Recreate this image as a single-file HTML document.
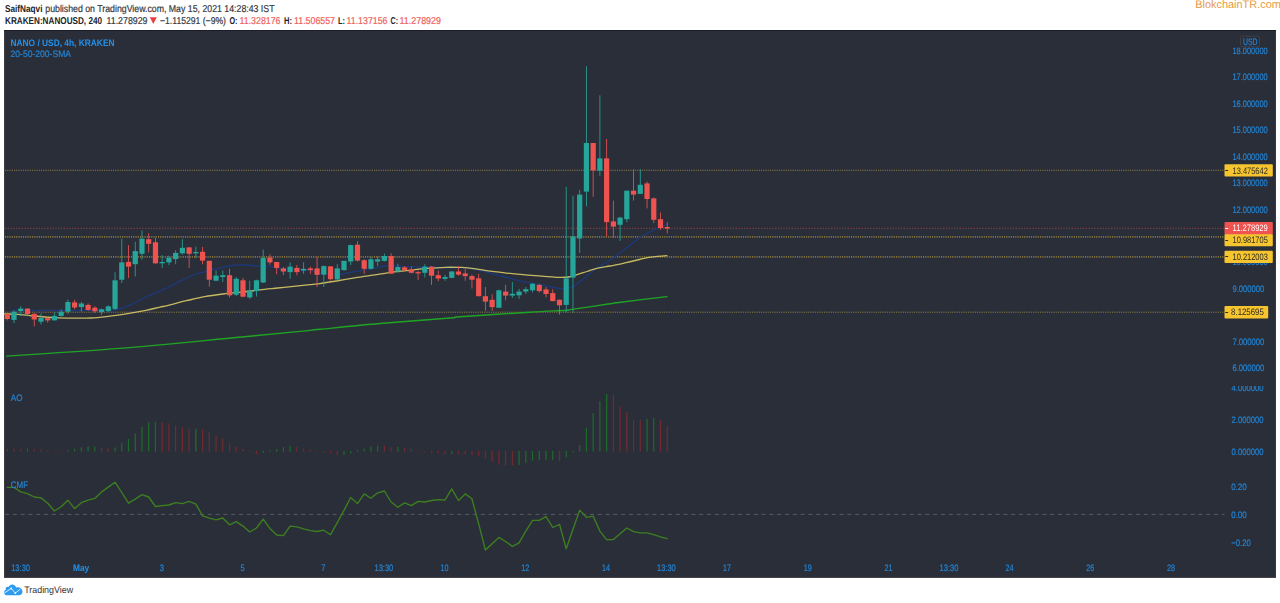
<!DOCTYPE html>
<html><head><meta charset="utf-8"><title>NANO / USD chart</title>
<style>
html,body{margin:0;padding:0;background:#fff;}
body{width:1280px;height:603px;overflow:hidden;position:relative;font-family:"Liberation Sans",sans-serif;}
svg{position:absolute;left:0;top:0;display:block;}
svg text{font-family:"Liberation Sans",sans-serif;text-rendering:geometricPrecision;}
</style></head><body>
<svg width="1280" height="603" viewBox="0 0 1280 603">
<rect x="4" y="30" width="1272" height="548" fill="#2a2e39"/>
<rect x="4" y="30" width="1" height="548" fill="#3d3d40"/>
<rect x="1275" y="30" width="1" height="548" fill="#3a3a3d"/>
<rect x="4" y="577" width="1272" height="1" fill="#454547"/>
<rect x="4" y="30" width="1272" height="1" fill="#1a1c27"/>
<filter id="soft" filterUnits="userSpaceOnUse" x="0" y="0" width="1280" height="603"><feGaussianBlur stdDeviation="0.45"/></filter>
<g filter="url(#soft)">
<line x1="5" y1="228.3" x2="1224.5" y2="228.3" stroke="#ef5350" stroke-opacity="0.55" stroke-width="1.0" stroke-dasharray="1.2 1.6"/>
<line x1="5" y1="170.3" x2="1224.5" y2="170.3" stroke="#e2c04c" stroke-opacity="0.55" stroke-width="1.0" stroke-dasharray="1.1 1.15"/>
<line x1="5" y1="312.2" x2="1224.5" y2="312.2" stroke="#e2c04c" stroke-opacity="0.55" stroke-width="1.0" stroke-dasharray="1.1 1.15"/>
<line x1="5" y1="236.9" x2="1224.5" y2="236.9" stroke="#e2c04c" stroke-opacity="0.5" stroke-width="1.8" stroke-dasharray="1.1 1.15"/>
<line x1="5" y1="256.9" x2="1224.5" y2="256.9" stroke="#e2c04c" stroke-opacity="0.5" stroke-width="1.8" stroke-dasharray="1.1 1.15"/>
<path d="M11.0 310.4 C15.8 310.4 28.5 310.4 40.0 310.4 C51.5 310.4 68.7 310.3 80.0 310.3 C91.3 310.3 102.6 310.5 108.0 310.5 C113.4 310.5 111.1 310.4 112.6 310.3 C114.1 310.2 115.2 310.0 117.0 309.6 C118.8 309.2 121.4 308.4 123.2 307.8 C125.0 307.2 126.2 306.6 128.0 305.8 C129.8 305.0 131.6 304.2 133.8 303.1 C136.0 302.1 138.6 300.7 141.0 299.5 C143.4 298.3 145.9 296.9 148.4 295.8 C150.9 294.7 153.3 293.7 156.0 292.6 C158.7 291.5 161.7 290.4 164.4 289.2 C167.1 288.0 169.3 286.7 172.0 285.4 C174.7 284.1 177.6 282.5 180.3 281.2 C183.0 279.9 185.3 278.7 188.0 277.5 C190.7 276.3 193.4 275.1 196.2 274.2 C199.0 273.2 201.8 272.6 204.7 271.8 C207.6 271.0 210.8 270.1 213.9 269.3 C217.0 268.6 220.0 267.9 223.0 267.3 C226.0 266.7 229.1 265.9 232.1 265.5 C235.1 265.1 237.8 264.8 241.2 264.8 C244.5 264.8 249.1 265.3 252.2 265.5 C255.2 265.7 256.8 266.0 259.5 266.1 C262.2 266.2 265.6 265.7 268.6 266.1 C271.6 266.5 274.6 267.9 277.7 268.4 C280.8 268.9 283.8 269.1 286.9 269.3 C289.9 269.5 292.1 269.5 296.0 269.7 C299.9 269.9 306.3 269.8 310.0 270.3 C313.7 270.8 313.8 272.1 318.2 272.8 C322.6 273.5 331.9 274.5 336.5 274.6 C341.1 274.7 342.6 273.9 345.6 273.4 C348.6 272.9 350.1 272.3 354.7 271.5 C359.3 270.7 367.5 269.4 373.0 268.4 C378.5 267.4 383.4 265.9 387.6 265.5 C391.9 265.1 394.9 265.9 398.5 266.1 C402.1 266.3 404.6 266.4 409.5 266.6 C414.4 266.8 421.6 267.2 427.7 267.3 C433.8 267.4 440.6 267.4 446.0 267.5 C451.4 267.6 456.3 267.8 460.0 267.9 C463.7 268.0 463.8 267.2 468.2 267.9 C472.6 268.6 480.4 270.6 486.5 272.1 C492.6 273.6 498.6 275.4 504.7 277.0 C510.8 278.6 516.9 280.3 523.0 281.6 C529.1 282.9 535.1 283.8 541.2 284.9 C547.3 286.0 555.2 287.9 559.5 288.5 C563.8 289.1 564.7 288.5 566.8 288.2 C568.9 287.9 570.2 287.6 572.0 286.8 C573.8 286.0 575.8 284.8 577.7 283.5 C579.6 282.2 581.6 280.5 583.6 278.8 C585.6 277.1 587.9 275.2 590.0 273.5 C592.1 271.8 592.7 271.0 596.0 268.8 C599.3 266.6 606.5 262.5 610.0 260.2 C613.5 257.9 612.3 258.7 617.2 255.0 C622.1 251.3 633.9 241.7 639.5 237.8 C645.1 233.9 646.1 233.8 650.7 231.5 C655.3 229.2 664.2 225.5 666.9 224.3" fill="none" stroke="#1a3a7e" stroke-width="1.3" stroke-opacity="0.95" stroke-linejoin="round" stroke-linecap="round"/>
<path d="M4.6 313.9 C6.9 314.0 12.9 314.0 18.2 314.4 C23.5 314.8 30.4 315.6 36.5 316.2 C42.6 316.8 48.6 317.4 54.7 317.7 C60.8 318.0 66.9 318.1 73.0 318.2 C79.1 318.2 85.1 318.3 91.2 318.0 C97.3 317.7 103.4 316.9 109.5 316.2 C115.6 315.5 121.6 314.6 127.7 313.6 C133.8 312.6 140.6 311.4 146.0 310.3 C151.4 309.2 156.3 307.9 160.0 307.1 C163.7 306.3 163.8 306.4 168.2 305.3 C172.6 304.2 180.4 302.1 186.5 300.7 C192.6 299.3 198.6 297.8 204.7 296.7 C210.8 295.6 216.9 294.8 223.0 294.0 C229.1 293.2 235.1 292.9 241.2 292.2 C247.3 291.5 253.4 290.5 259.5 289.8 C265.6 289.1 271.6 288.6 277.7 288.0 C283.8 287.4 290.6 286.7 296.0 286.1 C301.4 285.6 306.3 285.1 310.0 284.7 C313.7 284.3 313.8 284.4 318.2 283.8 C322.6 283.2 330.4 282.0 336.5 281.0 C342.6 280.0 348.6 278.9 354.7 277.9 C360.8 276.9 367.5 276.0 373.0 275.2 C378.5 274.4 383.4 273.4 387.6 272.8 C391.9 272.2 394.9 271.9 398.5 271.5 C402.1 271.1 404.6 270.8 409.5 270.3 C414.4 269.8 421.6 268.9 427.7 268.4 C433.8 267.9 440.6 267.5 446.0 267.3 C451.4 267.1 456.3 267.3 460.0 267.4 C463.7 267.5 463.8 267.4 468.2 267.9 C472.6 268.4 480.4 269.8 486.5 270.6 C492.6 271.4 498.6 272.1 504.7 272.8 C510.8 273.5 516.9 274.1 523.0 274.6 C529.1 275.2 535.1 275.6 541.2 276.1 C547.3 276.6 554.9 277.2 559.5 277.4 C564.1 277.5 565.6 277.5 568.6 277.0 C571.6 276.5 574.7 275.2 577.7 274.3 C580.8 273.4 583.9 272.4 586.9 271.5 C589.9 270.6 592.1 269.5 596.0 268.6 C599.9 267.7 606.5 266.7 610.0 266.0 C613.5 265.3 612.3 265.7 617.2 264.6 C622.1 263.5 633.9 260.7 639.5 259.5 C645.1 258.3 646.1 257.8 650.7 257.2 C655.3 256.6 664.2 255.9 666.9 255.7" fill="none" stroke="#d4c564" stroke-width="1.3" stroke-opacity="0.92" stroke-linejoin="round" stroke-linecap="round"/>
<path d="M6.6 356.1 C25.4 354.8 80.7 351.5 119.4 348.4 C158.1 345.3 208.7 340.1 238.8 337.3 C268.9 334.5 286.5 332.7 300.0 331.4 C313.5 330.1 306.7 330.6 320.0 329.3 C333.3 328.0 358.3 325.4 380.0 323.5 C401.7 321.6 436.7 319.1 450.0 318.0 C463.3 316.9 446.7 317.8 460.0 316.8 C473.3 315.8 512.2 313.3 530.0 312.2 C547.8 311.1 559.8 310.7 566.8 310.2 C573.8 309.7 564.8 310.5 572.0 309.4 C579.2 308.3 602.5 304.9 610.0 303.8 C617.5 302.7 607.5 303.9 617.0 302.7 C626.5 301.5 658.7 297.6 667.0 296.6" fill="none" stroke="#1fa524" stroke-width="1.4" stroke-opacity="1" stroke-linejoin="round" stroke-linecap="round"/>
<rect x="6.85" y="312.6" width="0.9" height="7.7" fill="#ef5350" fill-opacity="0.9"/>
<rect x="4.70" y="314.0" width="5.2" height="5.0" fill="#ef5350"/>
<rect x="13.58" y="310.4" width="0.9" height="12.8" fill="#26a69a" fill-opacity="0.9"/>
<rect x="11.43" y="311.7" width="5.2" height="8.2" fill="#26a69a"/>
<rect x="20.32" y="306.2" width="0.9" height="10.0" fill="#26a69a" fill-opacity="0.9"/>
<rect x="18.17" y="308.6" width="5.2" height="2.5" fill="#26a69a"/>
<rect x="27.05" y="308.0" width="0.9" height="8.2" fill="#ef5350" fill-opacity="0.9"/>
<rect x="24.90" y="308.6" width="5.2" height="5.4" fill="#ef5350"/>
<rect x="33.79" y="313.0" width="0.9" height="13.3" fill="#ef5350" fill-opacity="0.9"/>
<rect x="31.64" y="313.9" width="5.2" height="5.6" fill="#ef5350"/>
<rect x="40.52" y="313.5" width="0.9" height="11.0" fill="#26a69a" fill-opacity="0.9"/>
<rect x="38.37" y="318.0" width="5.2" height="3.7" fill="#26a69a"/>
<rect x="47.25" y="317.2" width="0.9" height="5.4" fill="#ef5350" fill-opacity="0.9"/>
<rect x="45.10" y="318.2" width="5.2" height="2.2" fill="#ef5350"/>
<rect x="53.99" y="312.6" width="0.9" height="8.2" fill="#26a69a" fill-opacity="0.9"/>
<rect x="51.84" y="315.9" width="5.2" height="4.4" fill="#26a69a"/>
<rect x="60.72" y="309.3" width="0.9" height="7.3" fill="#26a69a" fill-opacity="0.9"/>
<rect x="58.57" y="311.7" width="5.2" height="4.2" fill="#26a69a"/>
<rect x="67.46" y="299.5" width="0.9" height="14.5" fill="#26a69a" fill-opacity="0.9"/>
<rect x="65.31" y="302.0" width="5.2" height="9.7" fill="#26a69a"/>
<rect x="74.19" y="299.8" width="0.9" height="9.5" fill="#ef5350" fill-opacity="0.9"/>
<rect x="72.04" y="302.4" width="5.2" height="5.1" fill="#ef5350"/>
<rect x="80.92" y="302.0" width="0.9" height="9.7" fill="#26a69a" fill-opacity="0.9"/>
<rect x="78.77" y="303.5" width="5.2" height="3.6" fill="#26a69a"/>
<rect x="87.66" y="303.5" width="0.9" height="7.3" fill="#ef5350" fill-opacity="0.9"/>
<rect x="85.51" y="304.9" width="5.2" height="5.0" fill="#ef5350"/>
<rect x="94.39" y="306.2" width="0.9" height="6.4" fill="#ef5350" fill-opacity="0.9"/>
<rect x="92.24" y="307.7" width="5.2" height="3.6" fill="#ef5350"/>
<rect x="101.13" y="308.6" width="0.9" height="6.2" fill="#26a69a" fill-opacity="0.9"/>
<rect x="98.98" y="309.3" width="5.2" height="2.9" fill="#26a69a"/>
<rect x="107.86" y="305.3" width="0.9" height="6.9" fill="#26a69a" fill-opacity="0.9"/>
<rect x="105.71" y="306.4" width="5.2" height="4.7" fill="#26a69a"/>
<rect x="114.59" y="272.1" width="0.9" height="37.8" fill="#26a69a" fill-opacity="0.9"/>
<rect x="112.44" y="280.3" width="5.2" height="28.6" fill="#26a69a"/>
<rect x="121.33" y="238.7" width="0.9" height="44.3" fill="#26a69a" fill-opacity="0.9"/>
<rect x="119.18" y="262.4" width="5.2" height="17.3" fill="#26a69a"/>
<rect x="128.06" y="245.1" width="0.9" height="32.8" fill="#ef5350" fill-opacity="0.9"/>
<rect x="125.91" y="261.9" width="5.2" height="4.7" fill="#ef5350"/>
<rect x="134.80" y="241.8" width="0.9" height="34.7" fill="#26a69a" fill-opacity="0.9"/>
<rect x="132.65" y="251.1" width="5.2" height="13.1" fill="#26a69a"/>
<rect x="141.53" y="230.5" width="0.9" height="29.2" fill="#26a69a" fill-opacity="0.9"/>
<rect x="139.38" y="238.7" width="5.2" height="15.1" fill="#26a69a"/>
<rect x="148.26" y="233.2" width="0.9" height="19.2" fill="#ef5350" fill-opacity="0.9"/>
<rect x="146.11" y="239.2" width="5.2" height="4.6" fill="#ef5350"/>
<rect x="155.00" y="237.8" width="0.9" height="25.9" fill="#ef5350" fill-opacity="0.9"/>
<rect x="152.85" y="242.3" width="5.2" height="21.0" fill="#ef5350"/>
<rect x="161.73" y="255.1" width="0.9" height="12.8" fill="#26a69a" fill-opacity="0.9"/>
<rect x="159.58" y="262.0" width="5.2" height="1.3" fill="#26a69a"/>
<rect x="168.47" y="255.7" width="0.9" height="9.4" fill="#26a69a" fill-opacity="0.9"/>
<rect x="166.32" y="257.8" width="5.2" height="4.6" fill="#26a69a"/>
<rect x="175.20" y="250.2" width="0.9" height="14.0" fill="#26a69a" fill-opacity="0.9"/>
<rect x="173.05" y="252.9" width="5.2" height="6.2" fill="#26a69a"/>
<rect x="181.93" y="239.2" width="0.9" height="15.4" fill="#26a69a" fill-opacity="0.9"/>
<rect x="179.78" y="247.8" width="5.2" height="5.5" fill="#26a69a"/>
<rect x="188.67" y="246.9" width="0.9" height="21.0" fill="#ef5350" fill-opacity="0.9"/>
<rect x="186.52" y="247.4" width="5.2" height="6.4" fill="#ef5350"/>
<rect x="195.40" y="246.5" width="0.9" height="11.3" fill="#26a69a" fill-opacity="0.9"/>
<rect x="193.25" y="252.0" width="5.2" height="1.3" fill="#26a69a"/>
<rect x="202.14" y="246.9" width="0.9" height="17.3" fill="#ef5350" fill-opacity="0.9"/>
<rect x="199.99" y="251.8" width="5.2" height="8.8" fill="#ef5350"/>
<rect x="208.87" y="260.8" width="0.9" height="25.9" fill="#ef5350" fill-opacity="0.9"/>
<rect x="206.72" y="260.8" width="5.2" height="18.9" fill="#ef5350"/>
<rect x="215.60" y="270.6" width="0.9" height="10.6" fill="#26a69a" fill-opacity="0.9"/>
<rect x="213.45" y="275.7" width="5.2" height="5.0" fill="#26a69a"/>
<rect x="222.34" y="270.6" width="0.9" height="11.3" fill="#26a69a" fill-opacity="0.9"/>
<rect x="220.19" y="275.2" width="5.2" height="1.8" fill="#26a69a"/>
<rect x="229.07" y="268.8" width="0.9" height="28.6" fill="#ef5350" fill-opacity="0.9"/>
<rect x="226.92" y="275.2" width="5.2" height="20.1" fill="#ef5350"/>
<rect x="235.81" y="277.0" width="0.9" height="19.2" fill="#26a69a" fill-opacity="0.9"/>
<rect x="233.66" y="278.8" width="5.2" height="15.9" fill="#26a69a"/>
<rect x="242.54" y="277.9" width="0.9" height="19.5" fill="#ef5350" fill-opacity="0.9"/>
<rect x="240.39" y="280.3" width="5.2" height="16.4" fill="#ef5350"/>
<rect x="249.27" y="280.7" width="0.9" height="18.2" fill="#26a69a" fill-opacity="0.9"/>
<rect x="247.12" y="290.3" width="5.2" height="7.1" fill="#26a69a"/>
<rect x="256.01" y="279.7" width="0.9" height="16.8" fill="#26a69a" fill-opacity="0.9"/>
<rect x="253.86" y="280.3" width="5.2" height="10.8" fill="#26a69a"/>
<rect x="262.74" y="249.6" width="0.9" height="33.4" fill="#26a69a" fill-opacity="0.9"/>
<rect x="260.59" y="257.8" width="5.2" height="24.7" fill="#26a69a"/>
<rect x="269.48" y="254.2" width="0.9" height="10.6" fill="#ef5350" fill-opacity="0.9"/>
<rect x="267.33" y="257.5" width="5.2" height="4.9" fill="#ef5350"/>
<rect x="276.21" y="262.0" width="0.9" height="12.3" fill="#ef5350" fill-opacity="0.9"/>
<rect x="274.06" y="262.0" width="5.2" height="5.9" fill="#ef5350"/>
<rect x="282.94" y="267.0" width="0.9" height="8.2" fill="#ef5350" fill-opacity="0.9"/>
<rect x="280.79" y="268.4" width="5.2" height="3.1" fill="#ef5350"/>
<rect x="289.68" y="262.4" width="0.9" height="16.4" fill="#26a69a" fill-opacity="0.9"/>
<rect x="287.53" y="266.6" width="5.2" height="5.5" fill="#26a69a"/>
<rect x="296.41" y="265.1" width="0.9" height="10.1" fill="#ef5350" fill-opacity="0.9"/>
<rect x="294.26" y="267.9" width="5.2" height="4.2" fill="#ef5350"/>
<rect x="303.15" y="262.4" width="0.9" height="11.5" fill="#26a69a" fill-opacity="0.9"/>
<rect x="301.00" y="268.8" width="5.2" height="1.8" fill="#26a69a"/>
<rect x="309.88" y="266.6" width="0.9" height="7.3" fill="#ef5350" fill-opacity="0.9"/>
<rect x="307.73" y="268.4" width="5.2" height="1.7" fill="#ef5350"/>
<rect x="316.61" y="256.9" width="0.9" height="30.1" fill="#ef5350" fill-opacity="0.9"/>
<rect x="314.46" y="268.4" width="5.2" height="6.4" fill="#ef5350"/>
<rect x="323.35" y="265.5" width="0.9" height="21.5" fill="#26a69a" fill-opacity="0.9"/>
<rect x="321.20" y="266.1" width="5.2" height="8.5" fill="#26a69a"/>
<rect x="330.08" y="266.1" width="0.9" height="14.6" fill="#ef5350" fill-opacity="0.9"/>
<rect x="327.93" y="266.4" width="5.2" height="12.8" fill="#ef5350"/>
<rect x="336.82" y="264.2" width="0.9" height="16.5" fill="#26a69a" fill-opacity="0.9"/>
<rect x="334.67" y="268.4" width="5.2" height="11.0" fill="#26a69a"/>
<rect x="343.55" y="260.6" width="0.9" height="10.0" fill="#26a69a" fill-opacity="0.9"/>
<rect x="341.40" y="260.9" width="5.2" height="9.2" fill="#26a69a"/>
<rect x="350.28" y="244.7" width="0.9" height="20.4" fill="#26a69a" fill-opacity="0.9"/>
<rect x="348.13" y="245.1" width="5.2" height="16.4" fill="#26a69a"/>
<rect x="357.02" y="241.1" width="0.9" height="20.4" fill="#ef5350" fill-opacity="0.9"/>
<rect x="354.87" y="244.7" width="5.2" height="15.9" fill="#ef5350"/>
<rect x="363.75" y="259.3" width="0.9" height="14.6" fill="#ef5350" fill-opacity="0.9"/>
<rect x="361.60" y="260.2" width="5.2" height="8.6" fill="#ef5350"/>
<rect x="370.49" y="256.9" width="0.9" height="12.8" fill="#26a69a" fill-opacity="0.9"/>
<rect x="368.34" y="259.3" width="5.2" height="9.5" fill="#26a69a"/>
<rect x="377.22" y="256.4" width="0.9" height="9.7" fill="#26a69a" fill-opacity="0.9"/>
<rect x="375.07" y="259.3" width="5.2" height="2.2" fill="#26a69a"/>
<rect x="383.95" y="253.6" width="0.9" height="7.9" fill="#26a69a" fill-opacity="0.9"/>
<rect x="381.80" y="256.0" width="5.2" height="4.9" fill="#26a69a"/>
<rect x="390.69" y="253.3" width="0.9" height="20.6" fill="#ef5350" fill-opacity="0.9"/>
<rect x="388.54" y="256.0" width="5.2" height="17.7" fill="#ef5350"/>
<rect x="397.42" y="263.7" width="0.9" height="8.4" fill="#26a69a" fill-opacity="0.9"/>
<rect x="395.27" y="267.0" width="5.2" height="4.5" fill="#26a69a"/>
<rect x="404.16" y="266.1" width="0.9" height="4.9" fill="#ef5350" fill-opacity="0.9"/>
<rect x="402.01" y="267.3" width="5.2" height="3.0" fill="#ef5350"/>
<rect x="410.89" y="266.6" width="0.9" height="6.8" fill="#ef5350" fill-opacity="0.9"/>
<rect x="408.74" y="269.3" width="5.2" height="3.5" fill="#ef5350"/>
<rect x="417.62" y="270.6" width="0.9" height="9.5" fill="#ef5350" fill-opacity="0.9"/>
<rect x="415.47" y="272.1" width="5.2" height="1.3" fill="#ef5350"/>
<rect x="424.36" y="264.2" width="0.9" height="13.2" fill="#26a69a" fill-opacity="0.9"/>
<rect x="422.21" y="266.6" width="5.2" height="6.2" fill="#26a69a"/>
<rect x="431.09" y="266.1" width="0.9" height="18.8" fill="#ef5350" fill-opacity="0.9"/>
<rect x="428.94" y="266.6" width="5.2" height="9.1" fill="#ef5350"/>
<rect x="437.83" y="270.6" width="0.9" height="10.6" fill="#ef5350" fill-opacity="0.9"/>
<rect x="435.68" y="275.2" width="5.2" height="3.3" fill="#ef5350"/>
<rect x="444.56" y="274.8" width="0.9" height="5.9" fill="#26a69a" fill-opacity="0.9"/>
<rect x="442.41" y="277.0" width="5.2" height="1.8" fill="#26a69a"/>
<rect x="451.29" y="271.2" width="0.9" height="7.1" fill="#26a69a" fill-opacity="0.9"/>
<rect x="449.14" y="271.5" width="5.2" height="6.4" fill="#26a69a"/>
<rect x="458.03" y="266.1" width="0.9" height="9.6" fill="#ef5350" fill-opacity="0.9"/>
<rect x="455.88" y="271.5" width="5.2" height="3.1" fill="#ef5350"/>
<rect x="464.76" y="268.8" width="0.9" height="11.9" fill="#ef5350" fill-opacity="0.9"/>
<rect x="462.61" y="273.4" width="5.2" height="2.7" fill="#ef5350"/>
<rect x="471.50" y="274.6" width="0.9" height="13.9" fill="#ef5350" fill-opacity="0.9"/>
<rect x="469.35" y="276.1" width="5.2" height="3.6" fill="#ef5350"/>
<rect x="478.23" y="273.9" width="0.9" height="22.6" fill="#ef5350" fill-opacity="0.9"/>
<rect x="476.08" y="278.3" width="5.2" height="17.9" fill="#ef5350"/>
<rect x="484.96" y="287.0" width="0.9" height="23.8" fill="#ef5350" fill-opacity="0.9"/>
<rect x="482.81" y="296.2" width="5.2" height="5.4" fill="#ef5350"/>
<rect x="491.70" y="294.3" width="0.9" height="16.5" fill="#ef5350" fill-opacity="0.9"/>
<rect x="489.55" y="299.8" width="5.2" height="7.3" fill="#ef5350"/>
<rect x="498.43" y="289.8" width="0.9" height="18.2" fill="#26a69a" fill-opacity="0.9"/>
<rect x="496.28" y="290.3" width="5.2" height="17.4" fill="#26a69a"/>
<rect x="505.17" y="284.9" width="0.9" height="15.3" fill="#ef5350" fill-opacity="0.9"/>
<rect x="503.02" y="291.6" width="5.2" height="4.0" fill="#ef5350"/>
<rect x="511.90" y="281.9" width="0.9" height="16.1" fill="#26a69a" fill-opacity="0.9"/>
<rect x="509.75" y="293.8" width="5.2" height="1.8" fill="#26a69a"/>
<rect x="518.63" y="288.9" width="0.9" height="10.0" fill="#26a69a" fill-opacity="0.9"/>
<rect x="516.48" y="291.6" width="5.2" height="3.7" fill="#26a69a"/>
<rect x="525.37" y="287.0" width="0.9" height="7.0" fill="#26a69a" fill-opacity="0.9"/>
<rect x="523.22" y="289.2" width="5.2" height="2.4" fill="#26a69a"/>
<rect x="532.10" y="283.0" width="0.9" height="9.5" fill="#26a69a" fill-opacity="0.9"/>
<rect x="529.95" y="283.8" width="5.2" height="6.5" fill="#26a69a"/>
<rect x="538.84" y="283.8" width="0.9" height="8.7" fill="#ef5350" fill-opacity="0.9"/>
<rect x="536.69" y="284.9" width="5.2" height="6.2" fill="#ef5350"/>
<rect x="545.57" y="287.0" width="0.9" height="10.4" fill="#ef5350" fill-opacity="0.9"/>
<rect x="543.42" y="289.4" width="5.2" height="4.6" fill="#ef5350"/>
<rect x="552.30" y="289.2" width="0.9" height="12.1" fill="#ef5350" fill-opacity="0.9"/>
<rect x="550.15" y="293.1" width="5.2" height="8.0" fill="#ef5350"/>
<rect x="559.04" y="299.5" width="0.9" height="15.1" fill="#ef5350" fill-opacity="0.9"/>
<rect x="556.89" y="299.8" width="5.2" height="5.5" fill="#ef5350"/>
<rect x="565.77" y="186.8" width="0.9" height="125.8" fill="#26a69a" fill-opacity="0.9"/>
<rect x="563.62" y="278.4" width="5.2" height="26.5" fill="#26a69a"/>
<rect x="572.51" y="195.7" width="0.9" height="117.1" fill="#26a69a" fill-opacity="0.9"/>
<rect x="570.36" y="236.4" width="5.2" height="41.2" fill="#26a69a"/>
<rect x="579.24" y="190.0" width="0.9" height="63.0" fill="#26a69a" fill-opacity="0.9"/>
<rect x="577.09" y="194.6" width="5.2" height="43.9" fill="#26a69a"/>
<rect x="585.97" y="66.2" width="0.9" height="140.2" fill="#26a69a" fill-opacity="0.9"/>
<rect x="583.82" y="143.0" width="5.2" height="48.6" fill="#26a69a"/>
<rect x="592.71" y="143.0" width="0.9" height="53.8" fill="#ef5350" fill-opacity="0.9"/>
<rect x="590.56" y="143.0" width="5.2" height="27.3" fill="#ef5350"/>
<rect x="599.44" y="95.3" width="0.9" height="80.6" fill="#26a69a" fill-opacity="0.9"/>
<rect x="597.29" y="158.4" width="5.2" height="12.3" fill="#26a69a"/>
<rect x="606.18" y="139.0" width="0.9" height="97.6" fill="#ef5350" fill-opacity="0.9"/>
<rect x="604.03" y="158.4" width="5.2" height="63.7" fill="#ef5350"/>
<rect x="612.91" y="200.6" width="0.9" height="37.2" fill="#ef5350" fill-opacity="0.9"/>
<rect x="610.76" y="221.4" width="5.2" height="5.2" fill="#ef5350"/>
<rect x="619.64" y="216.9" width="0.9" height="24.0" fill="#26a69a" fill-opacity="0.9"/>
<rect x="617.49" y="217.6" width="5.2" height="7.2" fill="#26a69a"/>
<rect x="626.38" y="190.7" width="0.9" height="31.4" fill="#26a69a" fill-opacity="0.9"/>
<rect x="624.23" y="190.7" width="5.2" height="28.5" fill="#26a69a"/>
<rect x="633.11" y="169.2" width="0.9" height="31.4" fill="#ef5350" fill-opacity="0.9"/>
<rect x="630.96" y="190.7" width="5.2" height="3.9" fill="#ef5350"/>
<rect x="639.85" y="169.2" width="0.9" height="24.7" fill="#26a69a" fill-opacity="0.9"/>
<rect x="637.70" y="184.8" width="5.2" height="9.1" fill="#26a69a"/>
<rect x="646.58" y="181.5" width="0.9" height="26.9" fill="#ef5350" fill-opacity="0.9"/>
<rect x="644.43" y="183.4" width="5.2" height="15.6" fill="#ef5350"/>
<rect x="653.31" y="197.5" width="0.9" height="25.5" fill="#ef5350" fill-opacity="0.9"/>
<rect x="651.16" y="198.4" width="5.2" height="21.4" fill="#ef5350"/>
<rect x="660.05" y="212.5" width="0.9" height="17.2" fill="#ef5350" fill-opacity="0.9"/>
<rect x="657.90" y="219.2" width="5.2" height="8.9" fill="#ef5350"/>
<rect x="666.78" y="222.1" width="0.9" height="11.2" fill="#ef5350" fill-opacity="0.9"/>
<rect x="664.63" y="227.0" width="5.2" height="1.6" fill="#ef5350"/>
<rect x="6.70" y="449.0" width="1.2" height="2.5" fill="#722b30"/>
<rect x="13.43" y="448.8" width="1.2" height="2.7" fill="#722b30"/>
<rect x="20.17" y="449.3" width="1.2" height="2.2" fill="#722b30"/>
<rect x="26.90" y="448.5" width="1.2" height="3.0" fill="#1f6b2a"/>
<rect x="33.64" y="449.3" width="1.2" height="2.2" fill="#722b30"/>
<rect x="40.37" y="449.3" width="1.2" height="2.2" fill="#722b30"/>
<rect x="47.10" y="450.1" width="1.2" height="1.4" fill="#722b30"/>
<rect x="53.84" y="450.7" width="1.2" height="0.8" fill="#722b30"/>
<rect x="60.57" y="450.7" width="1.2" height="0.8" fill="#722b30"/>
<rect x="67.31" y="450.1" width="1.2" height="1.4" fill="#1f6b2a"/>
<rect x="74.04" y="448.8" width="1.2" height="2.7" fill="#1f6b2a"/>
<rect x="80.77" y="447.2" width="1.2" height="4.3" fill="#1f6b2a"/>
<rect x="87.51" y="446.3" width="1.2" height="5.2" fill="#1f6b2a"/>
<rect x="94.24" y="446.6" width="1.2" height="4.9" fill="#1f6b2a"/>
<rect x="100.98" y="447.9" width="1.2" height="3.6" fill="#722b30"/>
<rect x="107.71" y="448.6" width="1.2" height="2.9" fill="#722b30"/>
<rect x="114.44" y="447.5" width="1.2" height="4.0" fill="#1f6b2a"/>
<rect x="121.18" y="443.1" width="1.2" height="8.4" fill="#1f6b2a"/>
<rect x="127.91" y="438.9" width="1.2" height="12.6" fill="#1f6b2a"/>
<rect x="134.65" y="433.5" width="1.2" height="18.0" fill="#1f6b2a"/>
<rect x="141.38" y="426.9" width="1.2" height="24.6" fill="#1f6b2a"/>
<rect x="148.11" y="422.0" width="1.2" height="29.5" fill="#1f6b2a"/>
<rect x="154.85" y="421.9" width="1.2" height="29.6" fill="#1f6b2a"/>
<rect x="161.58" y="422.4" width="1.2" height="29.1" fill="#722b30"/>
<rect x="168.32" y="423.5" width="1.2" height="28.0" fill="#722b30"/>
<rect x="175.05" y="425.6" width="1.2" height="25.9" fill="#722b30"/>
<rect x="181.78" y="427.4" width="1.2" height="24.1" fill="#722b30"/>
<rect x="188.52" y="428.7" width="1.2" height="22.8" fill="#722b30"/>
<rect x="195.25" y="428.7" width="1.2" height="22.8" fill="#1f6b2a"/>
<rect x="201.99" y="429.0" width="1.2" height="22.5" fill="#722b30"/>
<rect x="208.72" y="431.7" width="1.2" height="19.8" fill="#722b30"/>
<rect x="215.45" y="435.9" width="1.2" height="15.6" fill="#722b30"/>
<rect x="222.19" y="438.6" width="1.2" height="12.9" fill="#722b30"/>
<rect x="228.92" y="443.1" width="1.2" height="8.4" fill="#722b30"/>
<rect x="235.66" y="447.0" width="1.2" height="4.5" fill="#722b30"/>
<rect x="242.39" y="449.0" width="1.2" height="2.5" fill="#722b30"/>
<rect x="249.12" y="450.5" width="1.2" height="1.0" fill="#722b30"/>
<rect x="255.86" y="450.9" width="1.2" height="3.5" fill="#722b30"/>
<rect x="262.59" y="450.9" width="1.2" height="2.0" fill="#1f6b2a"/>
<rect x="269.33" y="450.3" width="1.2" height="1.2" fill="#1f6b2a"/>
<rect x="276.06" y="449.0" width="1.2" height="2.5" fill="#1f6b2a"/>
<rect x="282.79" y="447.2" width="1.2" height="4.3" fill="#1f6b2a"/>
<rect x="289.53" y="445.8" width="1.2" height="5.7" fill="#1f6b2a"/>
<rect x="296.26" y="447.2" width="1.2" height="4.3" fill="#722b30"/>
<rect x="303.00" y="448.6" width="1.2" height="2.9" fill="#722b30"/>
<rect x="309.73" y="449.7" width="1.2" height="1.8" fill="#722b30"/>
<rect x="316.46" y="450.7" width="1.2" height="0.8" fill="#722b30"/>
<rect x="323.20" y="450.9" width="1.2" height="1.6" fill="#722b30"/>
<rect x="329.93" y="450.9" width="1.2" height="2.6" fill="#722b30"/>
<rect x="336.67" y="450.9" width="1.2" height="4.2" fill="#722b30"/>
<rect x="343.40" y="450.9" width="1.2" height="4.0" fill="#1f6b2a"/>
<rect x="350.13" y="450.9" width="1.2" height="2.6" fill="#1f6b2a"/>
<rect x="356.87" y="449.7" width="1.2" height="1.8" fill="#1f6b2a"/>
<rect x="363.60" y="448.5" width="1.2" height="3.0" fill="#1f6b2a"/>
<rect x="370.34" y="446.5" width="1.2" height="5.0" fill="#1f6b2a"/>
<rect x="377.07" y="445.8" width="1.2" height="5.7" fill="#1f6b2a"/>
<rect x="383.80" y="445.8" width="1.2" height="5.7" fill="#722b30"/>
<rect x="390.54" y="447.0" width="1.2" height="4.5" fill="#722b30"/>
<rect x="397.27" y="446.9" width="1.2" height="4.6" fill="#1f6b2a"/>
<rect x="404.01" y="447.7" width="1.2" height="3.8" fill="#722b30"/>
<rect x="410.74" y="448.6" width="1.2" height="2.9" fill="#722b30"/>
<rect x="417.47" y="450.7" width="1.2" height="0.8" fill="#722b30"/>
<rect x="424.21" y="450.9" width="1.2" height="1.1" fill="#722b30"/>
<rect x="430.94" y="450.9" width="1.2" height="2.0" fill="#722b30"/>
<rect x="437.68" y="450.9" width="1.2" height="2.4" fill="#722b30"/>
<rect x="444.41" y="450.9" width="1.2" height="3.5" fill="#722b30"/>
<rect x="451.14" y="450.9" width="1.2" height="3.3" fill="#1f6b2a"/>
<rect x="457.88" y="450.9" width="1.2" height="3.5" fill="#722b30"/>
<rect x="464.61" y="450.9" width="1.2" height="3.6" fill="#722b30"/>
<rect x="471.35" y="450.9" width="1.2" height="4.2" fill="#722b30"/>
<rect x="478.08" y="450.9" width="1.2" height="5.3" fill="#722b30"/>
<rect x="484.81" y="450.9" width="1.2" height="8.0" fill="#722b30"/>
<rect x="491.55" y="450.9" width="1.2" height="10.6" fill="#722b30"/>
<rect x="498.28" y="450.9" width="1.2" height="13.7" fill="#722b30"/>
<rect x="505.02" y="450.9" width="1.2" height="14.6" fill="#722b30"/>
<rect x="511.75" y="450.9" width="1.2" height="14.6" fill="#722b30"/>
<rect x="518.48" y="450.9" width="1.2" height="14.1" fill="#1f6b2a"/>
<rect x="525.22" y="450.9" width="1.2" height="11.9" fill="#1f6b2a"/>
<rect x="531.95" y="450.9" width="1.2" height="9.6" fill="#1f6b2a"/>
<rect x="538.69" y="450.9" width="1.2" height="9.2" fill="#1f6b2a"/>
<rect x="545.42" y="450.9" width="1.2" height="8.9" fill="#1f6b2a"/>
<rect x="552.15" y="450.9" width="1.2" height="8.9" fill="#1f6b2a"/>
<rect x="558.89" y="450.9" width="1.2" height="10.5" fill="#722b30"/>
<rect x="565.62" y="450.9" width="1.2" height="6.5" fill="#1f6b2a"/>
<rect x="572.36" y="450.9" width="1.2" height="1.3" fill="#1f6b2a"/>
<rect x="579.09" y="444.9" width="1.2" height="6.6" fill="#1f6b2a"/>
<rect x="585.82" y="427.8" width="1.2" height="23.7" fill="#1f6b2a"/>
<rect x="592.56" y="413.0" width="1.2" height="38.5" fill="#1f6b2a"/>
<rect x="599.29" y="401.2" width="1.2" height="50.3" fill="#1f6b2a"/>
<rect x="606.03" y="394.2" width="1.2" height="57.3" fill="#1f6b2a"/>
<rect x="612.76" y="394.9" width="1.2" height="56.6" fill="#722b30"/>
<rect x="619.49" y="406.8" width="1.2" height="44.7" fill="#722b30"/>
<rect x="626.23" y="412.1" width="1.2" height="39.4" fill="#722b30"/>
<rect x="632.96" y="419.7" width="1.2" height="31.8" fill="#722b30"/>
<rect x="639.70" y="420.1" width="1.2" height="31.4" fill="#722b30"/>
<rect x="646.43" y="418.8" width="1.2" height="32.7" fill="#1f6b2a"/>
<rect x="653.16" y="417.9" width="1.2" height="33.6" fill="#1f6b2a"/>
<rect x="659.90" y="420.1" width="1.2" height="31.4" fill="#722b30"/>
<rect x="666.63" y="426.3" width="1.2" height="25.2" fill="#722b30"/>
<line x1="5" y1="514.4" x2="1224.5" y2="514.4" stroke="#8a8d94" stroke-opacity="0.5" stroke-width="0.9" stroke-dasharray="4 3.8"/>
<polyline points="7.3,487.4 14.0,487.4 20.8,491.9 27.5,493.7 34.2,497.0 41.0,497.9 47.7,503.2 54.4,511.0 61.2,506.8 67.9,500.2 74.6,508.6 81.4,502.7 88.1,500.2 94.8,498.4 101.6,491.9 108.3,487.1 115.0,482.2 121.8,492.5 128.5,503.2 135.2,499.1 142.0,494.6 148.7,497.0 155.4,506.5 162.2,505.6 168.9,505.0 175.7,502.7 182.4,503.6 189.1,501.4 195.9,504.1 202.6,515.8 209.3,518.2 216.1,519.8 222.8,518.0 229.5,524.8 236.3,521.6 243.0,526.1 249.7,532.0 256.5,528.0 263.2,519.1 269.9,528.4 276.7,535.0 283.4,535.6 290.1,526.1 296.9,526.8 303.6,528.8 310.3,530.6 317.1,531.5 323.8,530.2 330.5,534.7 337.3,522.7 344.0,510.4 350.7,497.5 357.5,503.6 364.2,493.9 370.9,498.2 377.7,492.8 384.4,491.0 391.1,502.0 397.9,507.2 404.6,502.9 411.3,505.6 418.1,501.4 424.8,502.0 431.5,500.5 438.3,499.6 445.0,500.0 451.7,488.9 458.5,500.5 465.2,493.9 471.9,498.8 478.7,523.9 485.4,550.0 492.1,543.7 498.9,537.4 505.6,541.5 512.4,546.4 519.1,542.8 525.8,531.1 532.6,520.3 539.3,520.3 546.0,516.7 552.8,527.5 559.5,524.3 566.2,548.7 573.0,529.3 579.7,510.1 586.4,517.3 593.2,516.2 599.9,531.1 606.6,539.7 613.4,539.5 620.1,533.8 626.8,528.0 633.6,531.6 640.3,532.9 647.0,532.9 653.8,534.7 660.5,536.8 667.2,538.6" fill="none" stroke="#3c7f1f" stroke-width="1.35" stroke-opacity="1" stroke-linejoin="round" stroke-linecap="round"/>
<text x="10.5" y="45.5" font-size="9.4" fill="#2290ea" font-weight="bold" text-anchor="start" textLength="104" lengthAdjust="spacingAndGlyphs">NANO / USD, 4h, KRAKEN</text>
<text x="10.5" y="57.0" font-size="9.4" fill="#2383d2" font-weight="normal" text-anchor="start" textLength="60.5" lengthAdjust="spacingAndGlyphs" stroke="#2383d2" stroke-width="0.2">20-50-200-SMA</text>
<text x="10.8" y="401.2" font-size="9.4" fill="#2383d2" font-weight="normal" text-anchor="start" textLength="11.7" lengthAdjust="spacingAndGlyphs" stroke="#2383d2" stroke-width="0.2">AO</text>
<text x="10.8" y="488.3" font-size="9.4" fill="#2383d2" font-weight="normal" text-anchor="start" textLength="17.4" lengthAdjust="spacingAndGlyphs" stroke="#2383d2" stroke-width="0.2">CMF</text>
<rect x="1240.5" y="36.2" width="19" height="10.6" rx="1.5" fill="none" stroke="#3b3f4c" stroke-width="1"/>
<text x="1243" y="44.8" font-size="9.4" fill="#2383d2" font-weight="normal" text-anchor="start" textLength="14.5" lengthAdjust="spacingAndGlyphs" stroke="#2383d2" stroke-width="0.2">USD</text>
<clipPath id="c18"><rect x="1225" y="47.4" width="50" height="20"/></clipPath>
<text x="1232.4" y="54.0" font-size="9.4" fill="#2383d2" font-weight="normal" text-anchor="start" textLength="35.3" lengthAdjust="spacingAndGlyphs" stroke="#2383d2" stroke-width="0.2" clip-path="url(#c18)">18.000000</text>
<text x="1232.4" y="80.43" font-size="9.4" fill="#2383d2" font-weight="normal" text-anchor="start" textLength="35.3" lengthAdjust="spacingAndGlyphs" stroke="#2383d2" stroke-width="0.2">17.000000</text>
<text x="1232.4" y="106.86" font-size="9.4" fill="#2383d2" font-weight="normal" text-anchor="start" textLength="35.3" lengthAdjust="spacingAndGlyphs" stroke="#2383d2" stroke-width="0.2">16.000000</text>
<text x="1232.4" y="133.29" font-size="9.4" fill="#2383d2" font-weight="normal" text-anchor="start" textLength="35.3" lengthAdjust="spacingAndGlyphs" stroke="#2383d2" stroke-width="0.2">15.000000</text>
<text x="1232.4" y="159.72" font-size="9.4" fill="#2383d2" font-weight="normal" text-anchor="start" textLength="35.3" lengthAdjust="spacingAndGlyphs" stroke="#2383d2" stroke-width="0.2">14.000000</text>
<text x="1232.4" y="186.15" font-size="9.4" fill="#2383d2" font-weight="normal" text-anchor="start" textLength="35.3" lengthAdjust="spacingAndGlyphs" stroke="#2383d2" stroke-width="0.2">13.000000</text>
<text x="1232.4" y="212.57999999999998" font-size="9.4" fill="#2383d2" font-weight="normal" text-anchor="start" textLength="35.3" lengthAdjust="spacingAndGlyphs" stroke="#2383d2" stroke-width="0.2">12.000000</text>
<text x="1232.4" y="265.44" font-size="9.4" fill="#2383d2" font-weight="normal" text-anchor="start" textLength="35.3" lengthAdjust="spacingAndGlyphs" stroke="#2383d2" stroke-width="0.2">10.000000</text>
<text x="1232.4" y="291.87" font-size="9.4" fill="#2383d2" font-weight="normal" text-anchor="start" textLength="32" lengthAdjust="spacingAndGlyphs" stroke="#2383d2" stroke-width="0.2">9.000000</text>
<text x="1232.4" y="344.73" font-size="9.4" fill="#2383d2" font-weight="normal" text-anchor="start" textLength="32" lengthAdjust="spacingAndGlyphs" stroke="#2383d2" stroke-width="0.2">7.000000</text>
<text x="1232.4" y="371.15999999999997" font-size="9.4" fill="#2383d2" font-weight="normal" text-anchor="start" textLength="32" lengthAdjust="spacingAndGlyphs" stroke="#2383d2" stroke-width="0.2">6.000000</text>
<clipPath id="c4"><rect x="1225" y="386" width="50" height="20"/></clipPath>
<text x="1231.6" y="390.85" font-size="9.4" fill="#2383d2" font-weight="normal" text-anchor="start" textLength="32" lengthAdjust="spacingAndGlyphs" stroke="#2383d2" stroke-width="0.2" clip-path="url(#c4)">4.000000</text>
<text x="1231.6" y="422.65" font-size="9.4" fill="#2383d2" font-weight="normal" text-anchor="start" textLength="32" lengthAdjust="spacingAndGlyphs" stroke="#2383d2" stroke-width="0.2">2.000000</text>
<text x="1231.6" y="454.85" font-size="9.4" fill="#2383d2" font-weight="normal" text-anchor="start" textLength="32" lengthAdjust="spacingAndGlyphs" stroke="#2383d2" stroke-width="0.2">0.000000</text>
<text x="1231.2" y="489.65" font-size="9.4" fill="#2383d2" font-weight="normal" text-anchor="start" textLength="15.6" lengthAdjust="spacingAndGlyphs" stroke="#2383d2" stroke-width="0.2">0.20</text>
<text x="1231.2" y="517.65" font-size="9.4" fill="#2383d2" font-weight="normal" text-anchor="start" textLength="15.6" lengthAdjust="spacingAndGlyphs" stroke="#2383d2" stroke-width="0.2">0.00</text>
<text x="1231.2" y="545.85" font-size="9.4" fill="#2383d2" font-weight="normal" text-anchor="start" textLength="19.6" lengthAdjust="spacingAndGlyphs" stroke="#2383d2" stroke-width="0.2">−0.20</text>
<rect x="1224.5" y="250.8" width="48.3" height="12.3" rx="1" fill="#f5c42f"/>
<rect x="1225.3" y="256" width="2.8" height="1" fill="#2b2a22"/>
<text x="1232.5" y="260.15" font-size="9.4" fill="#2b2a22" font-weight="normal" text-anchor="start" textLength="35.3" lengthAdjust="spacingAndGlyphs">10.212003</text>
<rect x="1224.5" y="306.1" width="43.7" height="12.3" rx="1" fill="#f5c42f"/>
<rect x="1225.3" y="312" width="2.8" height="1" fill="#2b2a22"/>
<text x="1231.1" y="315.45" font-size="9.4" fill="#2b2a22" font-weight="normal" text-anchor="start" textLength="32.7" lengthAdjust="spacingAndGlyphs">8.125695</text>
<rect x="1224.5" y="164.2" width="48.3" height="12.3" rx="1" fill="#f5c42f"/>
<rect x="1225.3" y="170" width="2.8" height="1" fill="#2b2a22"/>
<text x="1232.5" y="173.55" font-size="9.4" fill="#2b2a22" font-weight="normal" text-anchor="start" textLength="35.3" lengthAdjust="spacingAndGlyphs">13.475642</text>
<rect x="1224.5" y="234.0" width="48.3" height="12.3" rx="1" fill="#f5c42f"/>
<rect x="1225.3" y="240" width="2.8" height="1" fill="#2b2a22"/>
<text x="1232.5" y="243.35" font-size="9.4" fill="#2b2a22" font-weight="normal" text-anchor="start" textLength="35.3" lengthAdjust="spacingAndGlyphs">10.981705</text>
<rect x="1224.5" y="222.0" width="48.3" height="12.3" rx="1" fill="#ef5350"/>
<rect x="1225.3" y="228" width="2.8" height="1" fill="#ffffff"/>
<text x="1232.5" y="231.35" font-size="9.4" fill="#ffffff" font-weight="normal" text-anchor="start" textLength="35.3" lengthAdjust="spacingAndGlyphs">11.278929</text>
<text x="20.6" y="570.7" font-size="9.4" fill="#2383d2" font-weight="normal" text-anchor="middle" textLength="18.8" lengthAdjust="spacingAndGlyphs" stroke="#2383d2" stroke-width="0.2">13:30</text>
<text x="81.1" y="570.7" font-size="9.4" fill="#2290ea" font-weight="bold" text-anchor="middle" textLength="16.3" lengthAdjust="spacingAndGlyphs">May</text>
<text x="161.9" y="570.7" font-size="9.4" fill="#2383d2" font-weight="normal" text-anchor="middle" textLength="4.2" lengthAdjust="spacingAndGlyphs" stroke="#2383d2" stroke-width="0.2">3</text>
<text x="242.6" y="570.7" font-size="9.4" fill="#2383d2" font-weight="normal" text-anchor="middle" textLength="4.2" lengthAdjust="spacingAndGlyphs" stroke="#2383d2" stroke-width="0.2">5</text>
<text x="323.3" y="570.7" font-size="9.4" fill="#2383d2" font-weight="normal" text-anchor="middle" textLength="4.2" lengthAdjust="spacingAndGlyphs" stroke="#2383d2" stroke-width="0.2">7</text>
<text x="383.9" y="570.7" font-size="9.4" fill="#2383d2" font-weight="normal" text-anchor="middle" textLength="18.8" lengthAdjust="spacingAndGlyphs" stroke="#2383d2" stroke-width="0.2">13:30</text>
<text x="444.4" y="570.7" font-size="9.4" fill="#2383d2" font-weight="normal" text-anchor="middle" textLength="8.0" lengthAdjust="spacingAndGlyphs" stroke="#2383d2" stroke-width="0.2">10</text>
<text x="525.2" y="570.7" font-size="9.4" fill="#2383d2" font-weight="normal" text-anchor="middle" textLength="8.0" lengthAdjust="spacingAndGlyphs" stroke="#2383d2" stroke-width="0.2">12</text>
<text x="605.9" y="570.7" font-size="9.4" fill="#2383d2" font-weight="normal" text-anchor="middle" textLength="8.0" lengthAdjust="spacingAndGlyphs" stroke="#2383d2" stroke-width="0.2">14</text>
<text x="666.4" y="570.7" font-size="9.4" fill="#2383d2" font-weight="normal" text-anchor="middle" textLength="18.8" lengthAdjust="spacingAndGlyphs" stroke="#2383d2" stroke-width="0.2">13:30</text>
<text x="727.0" y="570.7" font-size="9.4" fill="#2383d2" font-weight="normal" text-anchor="middle" textLength="8.0" lengthAdjust="spacingAndGlyphs" stroke="#2383d2" stroke-width="0.2">17</text>
<text x="807.7" y="570.7" font-size="9.4" fill="#2383d2" font-weight="normal" text-anchor="middle" textLength="8.0" lengthAdjust="spacingAndGlyphs" stroke="#2383d2" stroke-width="0.2">19</text>
<text x="888.4" y="570.7" font-size="9.4" fill="#2383d2" font-weight="normal" text-anchor="middle" textLength="8.0" lengthAdjust="spacingAndGlyphs" stroke="#2383d2" stroke-width="0.2">21</text>
<text x="949.0" y="570.7" font-size="9.4" fill="#2383d2" font-weight="normal" text-anchor="middle" textLength="18.8" lengthAdjust="spacingAndGlyphs" stroke="#2383d2" stroke-width="0.2">13:30</text>
<text x="1009.5" y="570.7" font-size="9.4" fill="#2383d2" font-weight="normal" text-anchor="middle" textLength="8.0" lengthAdjust="spacingAndGlyphs" stroke="#2383d2" stroke-width="0.2">24</text>
<text x="1090.3" y="570.7" font-size="9.4" fill="#2383d2" font-weight="normal" text-anchor="middle" textLength="8.0" lengthAdjust="spacingAndGlyphs" stroke="#2383d2" stroke-width="0.2">26</text>
<text x="1171.0" y="570.7" font-size="9.4" fill="#2383d2" font-weight="normal" text-anchor="middle" textLength="8.0" lengthAdjust="spacingAndGlyphs" stroke="#2383d2" stroke-width="0.2">28</text>
</g>
<text x="4.9" y="12.1" font-size="10" fill="#222328" font-weight="bold" text-anchor="start" textLength="37.6" lengthAdjust="spacingAndGlyphs">SaifNaqvi</text>
<text x="45.3" y="12.1" font-size="10" fill="#36373d" font-weight="normal" text-anchor="start" textLength="229.2" lengthAdjust="spacingAndGlyphs" stroke="#36373d" stroke-width="0.2">published on TradingView.com, May 15, 2021 14:28:43 IST</text>
<text x="5" y="23.8" font-size="10" fill="#222328" font-weight="bold" text-anchor="start" textLength="97" lengthAdjust="spacingAndGlyphs">KRAKEN:NANOUSD, 240</text>
<text x="106.5" y="23.8" font-size="10" fill="#36373d" font-weight="normal" text-anchor="start" textLength="41" lengthAdjust="spacingAndGlyphs" stroke="#36373d" stroke-width="0.2">11.278929</text>
<path d="M149.8 17.3 L156.8 17.3 L153.3 23.9 Z" fill="#e8413d"/>
<text x="160" y="23.8" font-size="10" fill="#36373d" font-weight="normal" text-anchor="start" textLength="66" lengthAdjust="spacingAndGlyphs" stroke="#36373d" stroke-width="0.2">−1.115291 (−9%)</text>
<text x="229.5" y="23.8" font-size="10" fill="#222328" font-weight="bold" text-anchor="start" textLength="8" lengthAdjust="spacingAndGlyphs">O:</text>
<text x="239.5" y="23.8" font-size="10" fill="#f05d5a" font-weight="normal" text-anchor="start" textLength="41" lengthAdjust="spacingAndGlyphs" stroke="#f05d5a" stroke-width="0.2">11.328176</text>
<text x="284" y="23.8" font-size="10" fill="#222328" font-weight="bold" text-anchor="start" textLength="8" lengthAdjust="spacingAndGlyphs">H:</text>
<text x="294" y="23.8" font-size="10" fill="#f05d5a" font-weight="normal" text-anchor="start" textLength="41" lengthAdjust="spacingAndGlyphs" stroke="#f05d5a" stroke-width="0.2">11.506557</text>
<text x="338" y="23.8" font-size="10" fill="#222328" font-weight="bold" text-anchor="start" textLength="7" lengthAdjust="spacingAndGlyphs">L:</text>
<text x="346.5" y="23.8" font-size="10" fill="#f05d5a" font-weight="normal" text-anchor="start" textLength="41" lengthAdjust="spacingAndGlyphs" stroke="#f05d5a" stroke-width="0.2">11.137156</text>
<text x="390.5" y="23.8" font-size="10" fill="#222328" font-weight="bold" text-anchor="start" textLength="7.5" lengthAdjust="spacingAndGlyphs">C:</text>
<text x="399.5" y="23.8" font-size="10" fill="#f05d5a" font-weight="normal" text-anchor="start" textLength="41.5" lengthAdjust="spacingAndGlyphs" stroke="#f05d5a" stroke-width="0.2">11.278929</text>
<text x="1195.3" y="8.2" font-size="11" fill="#e79a42" font-weight="normal" text-anchor="start" textLength="85.5" lengthAdjust="spacingAndGlyphs">BlokchainTR.com</text>
<g transform="translate(4.1,584.4)">
<path d="M3 10.9 C1.2 10.9 0 9.6 0 8 C0 6.8 0.7 5.8 1.6 5.3 C1.2 4.0 2.0 2.6 3.4 2.4 C3.9 2.3 4.3 2.4 4.6 2.5 C5.2 1.0 6.5 0 8 0 C10 0 11.6 1.3 12.2 3.2 C12.8 2.9 13.5 2.8 14.2 2.9 C16.5 3.2 18.4 5 18.4 7.2 C18.4 9.3 16.8 10.9 14.8 10.9 Z" fill="#2c9bf0"/>
<polyline points="0.6,8.4 7.15,4.0 11.2,8.7 15.9,5.0" fill="none" stroke="#ffffff" stroke-opacity="0.9" stroke-width="0.9" stroke-linejoin="round" stroke-linecap="round"/>
<circle cx="7.15" cy="4.0" r="0.85" fill="#fff"/><circle cx="11.2" cy="8.7" r="0.85" fill="#fff"/>
</g>
<text x="24.2" y="592.9" font-size="9.4" fill="#2e3038" font-weight="normal" text-anchor="start" textLength="48.9" lengthAdjust="spacingAndGlyphs">TradingView</text>
</svg>
</body></html>
